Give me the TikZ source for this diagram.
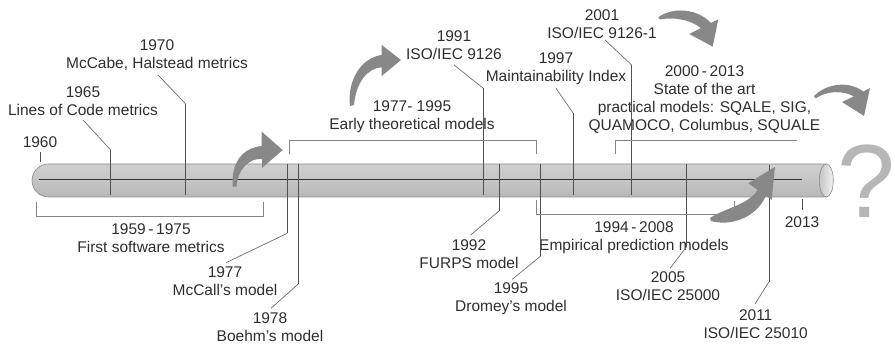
\documentclass[tikz,border=0pt]{standalone}
\usepackage{fontspec}
\setmainfont{Liberation Sans}
\definecolor{txt}{HTML}{2E2E2E}
\definecolor{ldrc}{HTML}{6E6E6E}
\definecolor{tckc}{HTML}{505050}
\definecolor{brkc}{HTML}{858585}
\definecolor{arrc}{HTML}{888888}
\definecolor{cylT}{HTML}{D0D0D0}
\definecolor{cylM}{HTML}{9E9E9E}
\definecolor{cylB}{HTML}{B8B8B8}
\definecolor{cylE}{HTML}{8A8A8A}
\definecolor{endL}{HTML}{C4C4C4}
\definecolor{endR}{HTML}{F2F2F2}
\definecolor{qmc}{HTML}{B6B6B6}
\begin{document}
\begin{tikzpicture}[x=1pt,y=-1pt,
  lbl/.style={font=\fontsize{15.5}{18}\selectfont, text=txt, align=center, inner sep=0pt},
  ldr/.style={draw=ldrc, line width=0.7pt},
  tck/.style={draw=tckc, line width=0.8pt},
  brk/.style={draw=brkc, line width=0.8pt},
  bigarrow/.style={fill=arrc}]
\useasboundingbox (0,0) rectangle (895,344);

% cylinder
\shade[top color=cylT, middle color=cylM, bottom color=cylB, draw=cylE, line width=0.6pt]
  (826.3,164) -- (48.5,164) arc[start angle=270, end angle=90, radius=16.5] -- (826.3,197) -- cycle;
\shade[left color=endL, right color=endR, draw=cylE, line width=0.6pt]
  (826.3,180.5) ellipse [x radius=7, y radius=16.5];
\coordinate (axL) at (39,180);
\coordinate (axR) at (801.7,180);
\draw[line width=1pt, draw=black!80] (axL) -- (axR);

% labels
\node[lbl] (t1960) at (40,142.5) {1960};
\node[lbl] (t1965) at (83,101) {1965\\Lines of Code metrics};
\node[lbl] (t1970) at (157,55.5) {1970\\McCabe, Halstead metrics};
\node[lbl] (r5975) at (151,238) {1959\,-\,1975\\First software metrics};
\node[lbl] (t1977) at (225,281.5) {1977\\McCall's model};
\node[lbl] (t1978) at (270,327) {1978\\Boehm's model};
\node[lbl] (r7795) at (412,117) {1977- 1995\\Early theoretical models};
\node[lbl] (t1991) at (454,45) {1991\\ISO/IEC 9126};
\node[lbl] (t1992) at (469,254) {1992\\FURPS model};
\node[lbl] (t1995) at (511,299) {1995\\Dromey's model};
\node[lbl] (t1997) at (556,68.5) {1997\\Maintainability Index};
\node[lbl] (t2001) at (602,24) {2001\\ISO/IEC 9126-1};
\node[lbl] (r9408) at (634,238) {1994\,-\,2008\\Empirical prediction models};
\node[lbl] (r0013) at (704.5,99.5) {2000\,-\,2013\\State of the art\\practical models: SQALE, SIG,\\QUAMOCO, Columbus, SQUALE};
\node[lbl] (t2005) at (668,286) {2005\\ISO/IEC 25000};
\node[lbl] (t2011) at (755.7,324) {2011\\ISO/IEC 25010};
\node[lbl] (t2013) at (802,222.3) {2013};

% leader coordinates
\coordinate (a60) at (40,152); \coordinate (b60) at (40,162);
\coordinate (a65) at (83,120); \coordinate (k65) at (110.7,150); \coordinate (b65) at (110.7,195);
\coordinate (a70) at (158,75); \coordinate (k70) at (185.7,104); \coordinate (b70) at (185.7,195);
\coordinate (a77) at (226,262.7); \coordinate (k77) at (287.3,233.3); \coordinate (b77) at (287.3,164);
\coordinate (a78) at (271,308.3); \coordinate (k78) at (298.3,284); \coordinate (b78) at (298.3,164);
\coordinate (a91) at (454,65); \coordinate (k91) at (483.3,88.3); \coordinate (b91) at (483.3,195);
\coordinate (a92) at (470.7,235); \coordinate (k92) at (499,211); \coordinate (b92) at (499,164);
\coordinate (a95) at (512.3,279.3); \coordinate (k95) at (540.7,256); \coordinate (b95) at (540.7,164);
\coordinate (a97) at (556,88.3); \coordinate (k97) at (573.3,113.3); \coordinate (b97) at (573.3,195);
\coordinate (a01) at (605,40); \coordinate (k01) at (631.7,65); \coordinate (b01) at (631.7,195);
\coordinate (a05) at (670,268.3); \coordinate (k05) at (686.7,246.7); \coordinate (b05) at (686.7,164);
\coordinate (a11) at (755,304); \coordinate (k11) at (769,281.7); \coordinate (b11) at (769,165);
\coordinate (a13) at (802.3,199.3); \coordinate (b13) at (802.3,210);

\draw[tck] (a60) -- (b60);
\draw[ldr] (a65) -- (k65); \draw[tck] (k65) -- (b65);
\draw[ldr] (a70) -- (k70); \draw[tck] (k70) -- (b70);
\draw[ldr] (a77) -- (k77); \draw[tck] (k77) -- (b77);
\draw[ldr] (a78) -- (k78); \draw[tck] (k78) -- (b78);
\draw[ldr] (a91) -- (k91); \draw[tck] (k91) -- (b91);
\draw[ldr] (a92) -- (k92); \draw[tck] (k92) -- (b92);
\draw[ldr] (a95) -- (k95); \draw[tck] (k95) -- (b95);
\draw[ldr] (a97) -- (k97); \draw[tck] (k97) -- (b97);
\draw[ldr] (a01) -- (k01); \draw[tck] (k01) -- (b01);
\draw[ldr] (a05) -- (k05); \draw[tck] (k05) -- (b05);
\draw[ldr] (a11) -- (k11); \draw[tck] (k11) -- (b11);
\draw[tck] (a13) -- (b13);

% brackets
\coordinate (p1) at (36.7,201.7); \coordinate (p2) at (263.3,201.7);
\draw[brk] (p1) -- ++(0,15) -| (p2);
\coordinate (q1) at (289.3,154); \coordinate (q2) at (536,154);
\draw[brk] (q1) -- ++(0,-14) -| (q2);
\coordinate (s1) at (536.7,200); \coordinate (s2) at (734,200.7);
\draw[brk] (s1) -- ++(0,14) -| (s2);
\coordinate (u1) at (615,154); \coordinate (u2) at (796.7,140);
\draw[brk] (u1) |- (u2);

% curved arrows
\fill[bigarrow] (232.7,186.7) .. controls (231,163) and (242,148) .. (261.7,146) -- (261.7,131.7) -- (282.7,150) -- (262,168) -- (262,159) .. controls (250,158) and (238,168) .. (236.5,186.7) -- cycle;
\fill[bigarrow] (350,106) .. controls (347,82) and (360,58) .. (381.7,55) -- (381.7,45) -- (401,60) -- (381.7,76) -- (381.7,67.3) .. controls (368,68) and (356,82) .. (354,105) -- cycle;
\fill[bigarrow] (658.3,17.3) .. controls (672,7) and (697,8) .. (711,23) -- (718.3,19.3) -- (712.7,46.7) -- (689.3,34) -- (700.9,28.1) .. controls (690,19) and (672,17) .. (660,19.5) -- cycle;
\fill[bigarrow] (814,96) .. controls (826,84) and (848,80) .. (863.3,91.5) -- (870,88) -- (864,116) -- (842,102) -- (853.8,96.4) .. controls (843,90) and (826,91) .. (815.5,98.5) -- cycle;
\fill[bigarrow] (710,218) .. controls (725,208) and (748,205) .. (757.7,190) -- (748.3,183.3) -- (775,166.7) -- (771.7,200) -- (765.9,195.8) .. controls (755,220) and (728,226) .. (711,221) -- cycle;

% question mark
\node[font=\fontsize{104}{104}\selectfont, text=qmc, inner sep=0pt, anchor=base west] (qm) at (837,218) {?};
\end{tikzpicture}
\end{document}
